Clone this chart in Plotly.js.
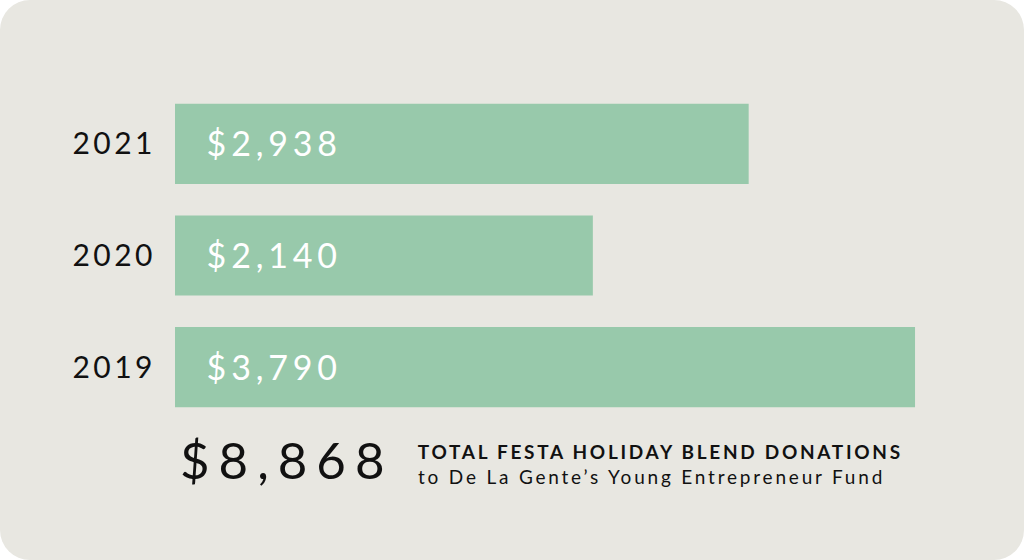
<!DOCTYPE html>
<html><head><meta charset="utf-8">
<script src="https://cdn.plot.ly/plotly-3.0.1.min.js"></script>
<style>
html,body{margin:0;padding:0;background:#ffffff;}
#wrap{width:1024px;height:560px;border-radius:30px;background:#e8e7e1;overflow:hidden;}
#chart{width:1024px;height:560px;}
.ytick text{letter-spacing:3.5px;}
.annotation .annotation-text{letter-spacing:4.8px;}
.annotation[data-index="3"] .annotation-text{letter-spacing:9px;}
.annotation[data-index="4"] .annotation-text{letter-spacing:2.7px;}
.annotation[data-index="5"] .annotation-text{letter-spacing:2.8px;}
</style></head>
<body><div id="wrap"><div id="chart"></div></div>
<script>
const years = ["2019", "2020", "2021"];
const donations = [3790, 2140, 2938];
const totalLabel = "$8,868";
const headline = "TOTAL FESTA HOLIDAY BLEND DONATIONS";
const subline = "to De La Gente\u2019s Young Entrepreneur Fund";

const fmt = v => "$" + v.toLocaleString("en-US");
const FONT = "Lato, 'Open Sans', sans-serif";
// compensate for CSS letter-spacing (Plotly centres the unspaced text box)
const comp = (txt, ls) => txt.length * ls / 2;

const annotations = years.map((y, i) => ({
  x: 0, y: i, xref: "x", yref: "y", xanchor: "left", yanchor: "middle",
  xshift: 30 + comp(fmt(donations[i]), 4.8), yshift: 1, showarrow: false, text: fmt(donations[i]),
  font: {family: FONT, size: 34, color: "#ffffff"}
}));
annotations.push({
  x: 0, y: -0.11, xref: "x", yref: "paper", xanchor: "left", yanchor: "middle",
  xshift: 3 + comp(totalLabel, 9), showarrow: false, text: totalLabel,
  font: {family: FONT, size: 51, color: "#111111"}
});
annotations.push({
  x: 0, y: -0.085, xref: "x", yref: "paper", xanchor: "left", yanchor: "middle",
  xshift: 241 + comp(headline, 2.7), showarrow: false, text: "<b>" + headline + "</b>",
  font: {family: FONT, size: 19, color: "#111111"}
});
annotations.push({
  x: 0, y: -0.16, xref: "x", yref: "paper", xanchor: "left", yanchor: "middle",
  xshift: 241 + comp(subline, 2.8), showarrow: false, text: subline,
  font: {family: FONT, size: 19, color: "#111111"}
});

const trace = {
  type: "bar", orientation: "h", y: years, x: donations,
  marker: {color: "#98c9ab", line: {width: 0}},
  width: 0.7175, hoverinfo: "none"
};

const layout = {
  width: 1024, height: 560,
  margin: {l: 175, r: 9, t: 88, b: 137},
  paper_bgcolor: "rgba(0,0,0,0)", plot_bgcolor: "rgba(0,0,0,0)",
  showlegend: false,
  xaxis: {range: [0, 4302], visible: false, fixedrange: true},
  yaxis: {type: "category", categoryorder: "array", categoryarray: years,
          range: [-0.5, 2.5], showgrid: false, zeroline: false, showline: false,
          ticks: "", ticklabelstandoff: 18,
          tickfont: {family: FONT, size: 30, color: "#111111"}},
  annotations: annotations
};
Plotly.newPlot("chart", [trace], layout, {displayModeBar: false, staticPlot: true});
</script></body></html>
